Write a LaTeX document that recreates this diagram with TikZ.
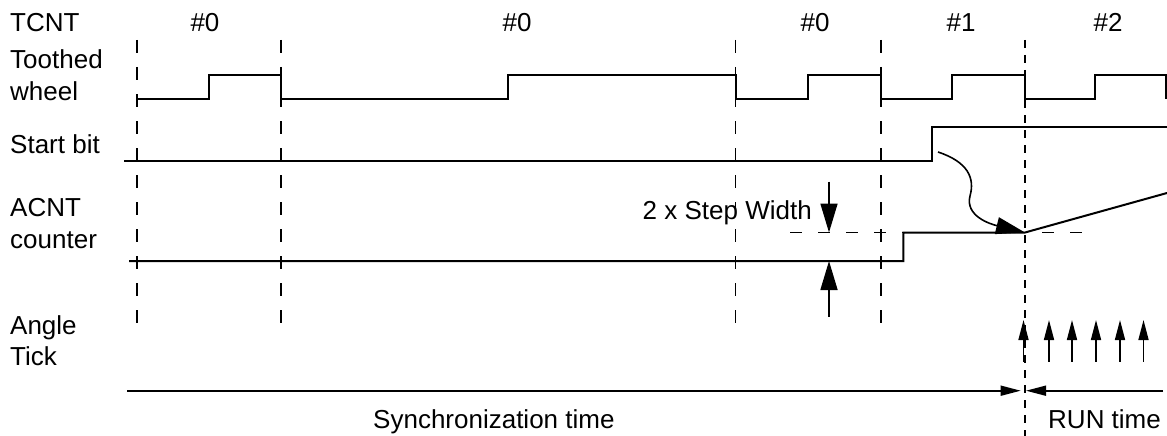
\documentclass[tikz,border=0pt]{standalone}
\usepackage{fontspec}
\setmainfont{Liberation Sans}
\usetikzlibrary{arrows.meta}
\begin{document}
\begin{tikzpicture}[x=1pt,y=-1pt,
  font=\fontsize{26}{31}\selectfont,
  sig/.style={line width=2pt, line join=miter},
  thin/.style={line width=1.6pt},
  guide/.style={line width=1.6pt, dash pattern=on 13pt off 14pt},
  guideb/.style={line width=1.6pt, dash pattern=on 8pt off 7pt},
  hguide/.style={line width=1.6pt, dash pattern=on 12pt off 16pt},
  bigtip/.style={-{Triangle[length=29pt,width=17pt]}},
  smalltip/.style={-{Triangle[length=20pt,width=10pt]}},
  lbl/.style={anchor=base west, inner sep=0pt},
  hash/.style={anchor=base, inner sep=0pt}]
\useasboundingbox (0,0) rectangle (1167,436);

% row labels
\node[lbl] (tcnt) at (10,32) {TCNT};
\node[lbl] (tw1) at (10,68) {Toothed};
\node[lbl] (tw2) at (10,100) {wheel};
\node[lbl] (sb) at (10,153) {Start bit};
\node[lbl] (ac1) at (10,216) {ACNT};
\node[lbl] (ac2) at (10,248) {counter};
\node[lbl] (at1) at (10,334) {Angle};
\node[lbl] (at2) at (10,365) {Tick};

% TCNT values
\node[hash] (h0a) at (205,32) {\#0};
\node[hash] (h0b) at (517,32) {\#0};
\node[hash] (h0c) at (815,32) {\#0};
\node[hash] (h1) at (961,32) {\#1};
\node[hash] (h2) at (1108,32) {\#2};

% dashed vertical guides
\foreach \x/\n in {136.7/a,281/b,735.5/c,880.7/d}{
  \coordinate (g\n top) at (\x,40);
  \coordinate (g\n bot) at (\x,326);
  \draw[guide] (g\n top) -- (g\n bot);
}
\coordinate (sync top) at (1025,40);
\coordinate (sync bot) at (1025,436);
\draw[guideb] (sync top) -- (sync bot);

% toothed wheel
\draw[sig] (138,98.7) -- (209.3,98.7) -- (209.3,75) -- (281,75) -- (281,98.7)
  -- (507.7,98.7) -- (507.7,75) -- (735.5,75) -- (735.5,98.7)
  -- (807.7,98.7) -- (807.7,75) -- (880.7,75) -- (880.7,98.7)
  -- (951.7,98.7) -- (951.7,75) -- (1024.5,75) -- (1024.5,98.7)
  -- (1095,98.7) -- (1095,75) -- (1166,75) -- (1166,98.7);

% start bit
\draw[sig] (124,161) -- (931.7,161) -- (931.7,126.7) -- (1167,126.7);

% ACNT counter
\coordinate (acnt start) at (1025,232.5);
\draw[sig] (129,261) -- (903.3,261) -- (903.3,232.5) -- (acnt start) -- (1167,193);
\draw[hguide] (790,232.5) -- (1087,232.5);

% 2 x Step Width
\node[anchor=base east, inner sep=0pt] (sw) at (812,219) {2 x Step Width};
\coordinate (swtop) at (829,181.7);
\coordinate (swhi) at (829,232.5);
\coordinate (swbot) at (829,316.7);
\coordinate (swlo) at (829,261);
\draw[thin,bigtip] (swtop) -- (swhi);
\draw[thin,bigtip] (swbot) -- (swlo);

% curved arrow from start bit to ACNT start
\coordinate (cstart) at (938,152);
\draw[thin,bigtip] (cstart) .. controls (968,162) and (975,178) .. (970,196)
  .. controls (965,216) and (990,224) .. (acnt start);

% angle ticks
\foreach \x [count=\i] in {1023.5,1049,1072,1096,1120,1143.5}{
  \coordinate (tb\i) at (\x,361.7);
  \coordinate (tt\i) at (\x,320);
  \draw[thin,smalltip] (tb\i) -- (tt\i);
}

% time arrows
\coordinate (syncL) at (127,390.7);
\coordinate (syncR) at (1020.7,390.7);
\coordinate (runR) at (1163,390.7);
\coordinate (runL) at (1026,390.7);
\draw[thin,smalltip] (syncL) -- (syncR);
\draw[thin,smalltip] (runR) -- (runL);

\node[lbl] (synct) at (373,428) {Synchronization time};
\node[lbl] (runt) at (1048,428) {RUN time};
\end{tikzpicture}
\end{document}
